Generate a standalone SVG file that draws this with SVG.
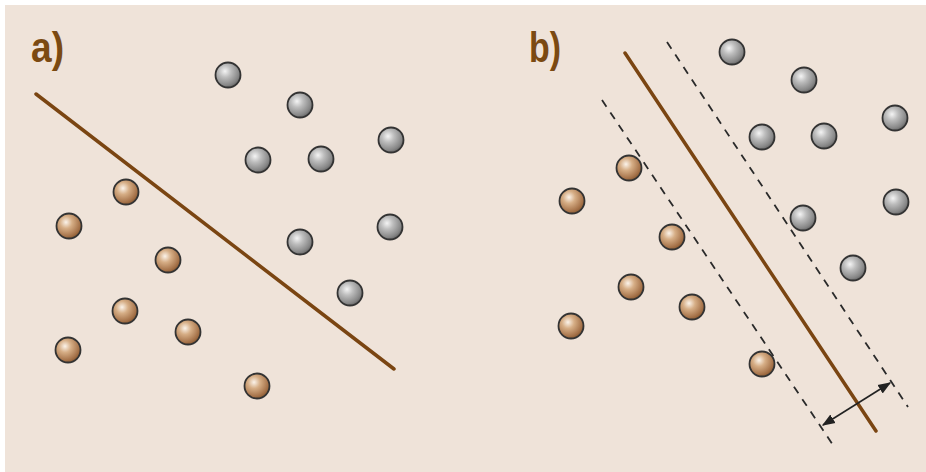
<svg xmlns="http://www.w3.org/2000/svg" width="926" height="472" viewBox="0 0 926 472">
<defs>
<radialGradient id="gb" cx="0.38" cy="0.35" r="0.7">
<stop offset="0" stop-color="#fbf3ea"/>
<stop offset="0.35" stop-color="#d6ae86"/>
<stop offset="0.8" stop-color="#a6734a"/>
<stop offset="1" stop-color="#85562e"/>
</radialGradient>
<radialGradient id="gg" cx="0.38" cy="0.35" r="0.7">
<stop offset="0" stop-color="#f4f4f4"/>
<stop offset="0.35" stop-color="#bdbdbd"/>
<stop offset="0.8" stop-color="#878787"/>
<stop offset="1" stop-color="#616161"/>
</radialGradient>
<marker id="ah" viewBox="0 0 10 10" refX="9" refY="5" markerWidth="13" markerHeight="13" orient="auto-start-reverse" markerUnits="userSpaceOnUse">
<path d="M0,1.2 L10,5 L0,8.8 Z" fill="#222"/>
</marker>
</defs>
<style>
.b{fill:url(#gb);stroke:#333;stroke-width:1.8}
.g{fill:url(#gg);stroke:#333;stroke-width:1.8}
.sep{stroke:#7a4512;stroke-width:3.5;stroke-linecap:round;fill:none}
.mar{stroke:#2a2a2a;stroke-width:1.8;stroke-dasharray:8 7;fill:none}
.lbl{font-family:"Liberation Sans",Arial,sans-serif;font-weight:bold;font-size:42px;fill:#7b4a12}
</style>
<rect x="5" y="5" width="921" height="467" fill="#efe3d9"/>
<g id="panel-a">
<text class="lbl" x="31" y="62" textLength="33" lengthAdjust="spacingAndGlyphs">a)</text>
</g>
<g id="panel-b">
<text class="lbl" x="529" y="62" textLength="32" lengthAdjust="spacingAndGlyphs">b)</text>
</g>
<g id="connectors">
<line class="sep" x1="36" y1="94" x2="394" y2="369"/>
<line class="sep" x1="625" y1="53" x2="876" y2="431"/>
<line class="mar" x1="602" y1="100" x2="835" y2="448"/>
<line class="mar" x1="667" y1="42" x2="908" y2="407"/>
<line x1="823" y1="425" x2="890" y2="383" stroke="#222" stroke-width="1.6" marker-start="url(#ah)" marker-end="url(#ah)"/>
</g>
<g id="points-a-gray">
<circle class="g" cx="228" cy="75" r="12.5"/>
<circle class="g" cx="300" cy="105" r="12.5"/>
<circle class="g" cx="258" cy="160" r="12.5"/>
<circle class="g" cx="321" cy="159" r="12.5"/>
<circle class="g" cx="391" cy="140" r="12.5"/>
<circle class="g" cx="300" cy="242" r="12.5"/>
<circle class="g" cx="390" cy="227" r="12.5"/>
<circle class="g" cx="350" cy="293" r="12.5"/>
</g>
<g id="points-a-brown">
<circle class="b" cx="126" cy="192" r="12.5"/>
<circle class="b" cx="69" cy="226" r="12.5"/>
<circle class="b" cx="168" cy="260" r="12.5"/>
<circle class="b" cx="125" cy="311" r="12.5"/>
<circle class="b" cx="188" cy="332" r="12.5"/>
<circle class="b" cx="68" cy="350" r="12.5"/>
<circle class="b" cx="257" cy="386" r="12.5"/>
</g>
<g id="points-b-gray">
<circle class="g" cx="732" cy="52" r="12.5"/>
<circle class="g" cx="804" cy="80" r="12.5"/>
<circle class="g" cx="762" cy="137" r="12.5"/>
<circle class="g" cx="824" cy="136" r="12.5"/>
<circle class="g" cx="895" cy="118" r="12.5"/>
<circle class="g" cx="803" cy="218" r="12.5"/>
<circle class="g" cx="896" cy="202" r="12.5"/>
<circle class="g" cx="853" cy="268" r="12.5"/>
</g>
<g id="points-b-brown">
<circle class="b" cx="629" cy="168" r="12.5"/>
<circle class="b" cx="572" cy="201" r="12.5"/>
<circle class="b" cx="672" cy="237" r="12.5"/>
<circle class="b" cx="631" cy="287" r="12.5"/>
<circle class="b" cx="692" cy="307" r="12.5"/>
<circle class="b" cx="571" cy="326" r="12.5"/>
<circle class="b" cx="762" cy="364" r="12.5"/>
</g>
</svg>
